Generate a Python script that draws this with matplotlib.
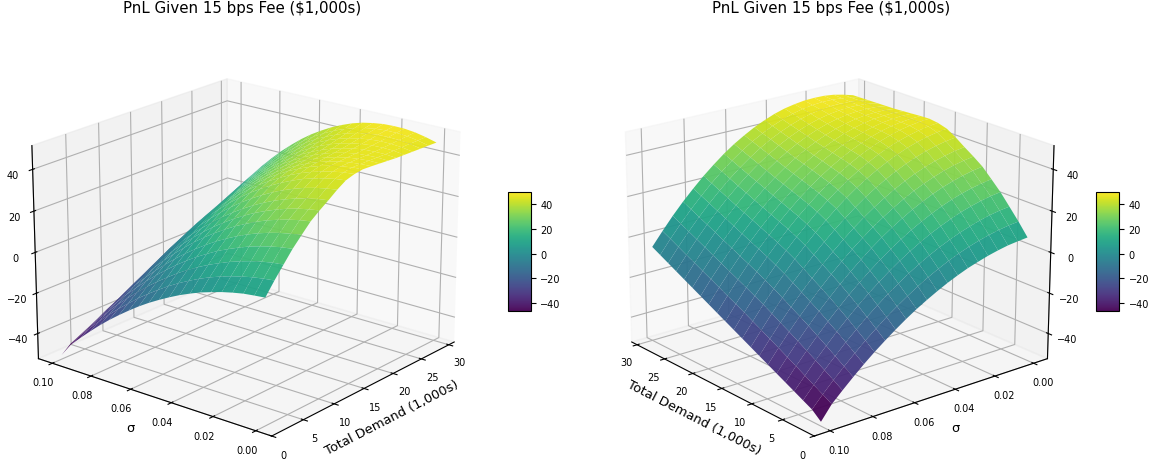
import numpy as np
import matplotlib
matplotlib.use("Agg")
import matplotlib.pyplot as plt

demand = [1.42, 2.83, 4.24, 5.64, 7.05, 8.46, 9.87, 11.28, 12.68, 14.09, 15.5,
          16.91, 18.32, 19.72, 21.13, 22.54, 23.95, 25.36, 26.76, 28.17, 29.58]
sigma = [0.000, 0.005, 0.010, 0.015, 0.020, 0.025, 0.030, 0.035, 0.040, 0.045, 0.050,
         0.055, 0.060, 0.065, 0.070, 0.075, 0.080, 0.085, 0.090, 0.095, 0.100]
pnl = [
    [7.5, 13.5, 19, 24.4, 29, 33.5, 36.8, 39.8, 43, 45.7, 47, 47.6, 47.4, 47.1, 46.8, 46.5, 46.4, 46.3, 46.2, 46.1, 46],
    [7.0, 12.9, 18.4, 23.7, 28.2, 32.7, 36.0, 39.1, 42.3, 45.1, 46.5, 47.2, 47.2, 47.2, 47.1, 47.0, 47.1, 47.2, 47.3, 47.3, 47.4],
    [6.4, 12.1, 17.5, 22.7, 27.2, 31.6, 35, 38, 41.3, 44.1, 45.6, 46.5, 46.7, 46.8, 46.9, 47, 47.3, 47.6, 47.9, 48.2, 48.5],
    [5.4, 11.0, 16.3, 21.4, 25.9, 30.2, 33.6, 36.7, 40.0, 42.8, 44.4, 45.5, 45.9, 46.2, 46.5, 46.8, 47.2, 47.7, 48.1, 48.6, 49.1],
    [4.2, 9.7, 14.8, 19.9, 24.3, 28.6, 31.9, 35.0, 38.3, 41.2, 42.9, 44.1, 44.7, 45.1, 45.6, 46.1, 46.7, 47.3, 48.0, 48.6, 49.2],
    [2.7, 8.1, 13.1, 18.0, 22.4, 26.6, 29.9, 33.1, 36.3, 39.2, 41.1, 42.4, 43.1, 43.7, 44.4, 45.0, 45.8, 46.6, 47.4, 48.2, 49.0],
    [1.1, 6.3, 11.1, 15.9, 20.2, 24.3, 27.7, 30.8, 34.0, 36.9, 38.9, 40.3, 41.2, 42.0, 42.8, 43.6, 44.6, 45.5, 46.5, 47.4, 48.3],
    [-0.9, 4.2, 8.9, 13.6, 17.7, 21.8, 25.1, 28.2, 31.4, 34.3, 36.3, 37.9, 38.9, 39.9, 40.8, 41.8, 42.9, 44.0, 45.1, 46.2, 47.3],
    [-3.1, 1.8, 6.4, 10.9, 15.0, 18.9, 22.2, 25.3, 28.5, 31.4, 33.5, 35.1, 36.3, 37.4, 38.5, 39.6, 40.9, 42.1, 43.3, 44.5, 45.8],
    [-5.6, -0.8, 3.6, 8.0, 11.9, 15.8, 19.0, 22.1, 25.3, 28.2, 30.3, 32.0, 33.3, 34.6, 35.8, 37.1, 38.4, 39.8, 41.1, 42.5, 43.8],
    [-8.3, -3.7, 0.6, 4.8, 8.6, 12.4, 15.6, 18.6, 21.7, 24.6, 26.8, 28.6, 30.0, 31.4, 32.8, 34.1, 35.6, 37.1, 38.6, 40.0, 41.5],
    [-11.2, -6.9, -2.8, 1.3, 5.0, 8.7, 11.8, 14.8, 17.8, 20.7, 22.9, 24.8, 26.3, 27.8, 29.3, 30.8, 32.4, 34.0, 35.6, 37.2, 38.7],
    [-14.4, -10.3, -6.3, -2.5, 1.1, 4.6, 7.7, 10.6, 13.6, 16.4, 18.7, 20.6, 22.3, 23.9, 25.5, 27.1, 28.8, 30.5, 32.2, 33.9, 35.6],
    [-17.9, -13.9, -10.2, -6.5, -3.1, 0.3, 3.3, 6.2, 9.1, 11.9, 14.1, 16.2, 17.9, 19.6, 21.3, 23.1, 24.8, 26.6, 28.4, 30.2, 32.0],
    [-21.6, -17.9, -14.3, -10.8, -7.5, -4.3, -1.4, 1.4, 4.3, 7.0, 9.3, 11.4, 13.2, 15.0, 16.8, 18.6, 20.5, 22.3, 24.2, 26.1, 27.9],
    [-25.5, -22.0, -18.7, -15.4, -12.3, -9.2, -6.4, -3.7, -0.9, 1.8, 4.1, 6.2, 8.1, 10.0, 11.9, 13.8, 15.7, 17.7, 19.6, 21.6, 23.5],
    [-29.7, -26.5, -23.3, -20.2, -17.3, -14.3, -11.7, -9.0, -6.3, -3.8, -1.5, 0.7, 2.7, 4.6, 6.6, 8.6, 10.6, 12.6, 14.6, 16.6, 18.6],
    [-34.2, -31.2, -28.3, -25.4, -22.6, -19.8, -17.2, -14.7, -12.1, -9.6, -7.4, -5.2, -3.1, -1.1, 1.0, 3.0, 5.1, 7.2, 9.2, 11.3, 13.4],
    [-38.9, -36.1, -33.4, -30.8, -28.2, -25.6, -23.1, -20.7, -18.2, -15.8, -13.6, -11.4, -9.3, -7.2, -5.1, -3.0, -0.8, 1.3, 3.4, 5.5, 7.7],
    [-43.8, -41.3, -38.9, -36.5, -34.0, -31.7, -29.3, -27.0, -24.7, -22.4, -20.1, -17.9, -15.8, -13.6, -11.4, -9.3, -7.1, -5.0, -2.8, -0.6, 1.5],
    [-50.5, -46.8, -44.6, -42.4, -40.2, -38, -35.8, -33.6, -31.4, -29.2, -27, -24.8, -22.6, -20.4, -18.2, -16, -13.8, -11.6, -9.4, -7.2, -5],
]
pnl_min = -46.7
pnl_max = 50.5

X, Y = np.meshgrid(demand, sigma)
Z = np.array(pnl)

fig = plt.figure(figsize=(11.51, 4.64), dpi=100)

panels = [
    ([-0.01, -0.0486, 0.44, 1.005], -141, [0.4415, 0.328, 0.0195, 0.257]),
    ([0.5025, -0.0486, 0.44, 1.005], 141, [0.9525, 0.328, 0.0195, 0.257]),
]
for rect, azim, cax_rect in panels:
    ax = fig.add_axes(rect, projection='3d')
    surf = ax.plot_surface(X, Y, Z, cmap='viridis', linewidth=0, alpha=0.95,
                           rstride=1, cstride=1, vmin=pnl_min, vmax=pnl_max)
    ax.set_xlim(0, 31)
    ax.view_init(elev=20, azim=azim)
    ax.set_title("PnL Given 15 bps Fee ($1,000s)", fontsize=10.8, pad=5)
    ax.set_xlabel("Total Demand (1,000s)", fontsize=9.4, labelpad=-3)
    ax.set_ylabel("σ", fontsize=9.4, labelpad=-3)
    ax.tick_params(labelsize=7, pad=0)
    cax = fig.add_axes(cax_rect)
    cb = fig.colorbar(surf, cax=cax)
    cb.ax.tick_params(labelsize=7)

plt.savefig('out.png', dpi=100)
